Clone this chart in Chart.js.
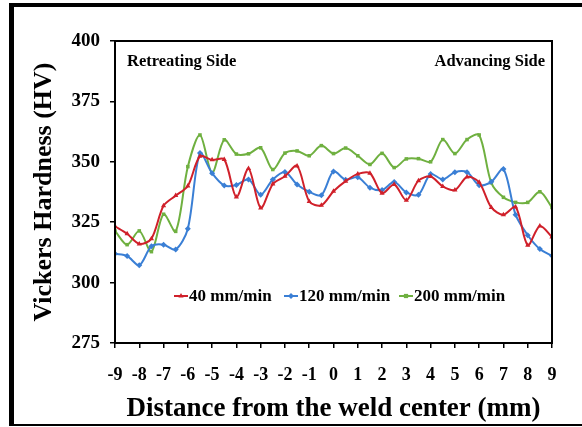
<!DOCTYPE html>
<html>
<head>
<meta charset="utf-8">
<script src="https://cdn.jsdelivr.net/npm/chart.js@4/dist/chart.umd.min.js"></script>
<style>
  html, body { margin: 0; background: #fff; overflow: hidden; }
  #wrap { position: relative; width: 582px; height: 427px; }
  #myChart { display: block; }
  #frame { position: absolute; left: 9px; top: 3px; right: 0; bottom: 1px;
           border-left: 5px solid #000; border-top: 4px solid #000; border-bottom: 2px solid #000; pointer-events: none; }
</style>
</head>
<body>
<div id="wrap">
  <canvas id="myChart" width="582" height="427"></canvas>
  <div id="frame"></div>
</div>
<script>
// distance from weld center (mm)
const distancia = [-9, -8.5, -8, -7.5, -7, -6.5, -6, -5.5, -5, -4.5, -4, -3.5, -3,
  -2.5, -2, -1.5, -1, -0.5, 0, 0.5, 1, 1.5, 2, 2.5, 3,
  3.5, 4, 4.5, 5, 5.5, 6, 6.5, 7, 7.5, 8, 8.5, 9];

// hardness HV for each welding speed
const dureza40 = [323.3, 320.2, 316.0, 318.2, 331.8, 336.0, 340.0, 352.3, 350.8, 351.0, 335.4, 347.2, 330.9,
  340.8, 344.0, 348.3, 333.6, 332.0, 337.8, 342.0, 345.0, 345.3, 337.0, 340.6, 334.1,
  342.2, 343.9, 339.8, 338.3, 343.7, 341.5, 331.1, 328.1, 331.3, 315.5, 323.4, 318.9];
const dureza120 = [311.9, 311.0, 307.2, 315.0, 315.7, 313.7, 322.3, 353.6, 345.3, 340.2, 340.4, 342.7, 336.4,
  342.7, 345.8, 340.6, 337.6, 336.2, 346.0, 342.6, 343.6, 339.3, 338.3, 341.6, 337.3,
  336.4, 344.9, 342.7, 345.7, 345.7, 340.3, 341.7, 347.0, 328.1, 319.6, 313.9, 311.1];
const dureza200 = [321.4, 315.7, 321.4, 312.8, 328.3, 321.2, 348.0, 361.1, 345.5, 359.1, 353.2, 353.3, 355.8,
  346.8, 353.6, 354.5, 352.5, 356.7, 353.4, 355.7, 352.5, 348.9, 353.5, 347.6, 351.2,
  351.3, 350.0, 359.2, 353.4, 359.2, 361.1, 341.3, 335.3, 333.2, 333.2, 337.6, 331.1];

const etiquetas = ['40 mm/min', '120 mm/min', '200 mm/min'];
const colores = ['rgb(208,32,42)', 'rgb(58,127,213)', 'rgb(111,176,64)'];
const marcas = ['triangle', 'rectRot', 'rect'];

const serif = '"Liberation Serif", "Times New Roman", serif';

function puntos(valores) {
  return distancia.map((d, i) => ({ x: d, y: valores[i] }));
}

const series = [dureza40, dureza120, dureza200].map((v, i) => ({
  label: etiquetas[i],
  data: puntos(v),
  borderColor: colores[i],
  backgroundColor: colores[i],
  borderWidth: 2,
  tension: 0.3,
  pointStyle: marcas[i],
  pointRadius: i === 2 ? 2.5 : 3,
  pointBorderWidth: 0
}));

// box around plot, side notes and the inline legend
const extras = {
  id: 'extras',
  afterDraw(chart) {
    const c = chart.ctx;
    const a = chart.chartArea;
    c.save();
    c.strokeStyle = '#000';
    c.lineWidth = 2;
    c.strokeRect(a.left, a.top, a.right - a.left, a.bottom - a.top);

    c.fillStyle = '#000';
    c.font = 'bold 16.5px ' + serif;
    c.textBaseline = 'alphabetic';
    c.textAlign = 'left';
    c.fillText('Retreating Side', 127, 66);
    c.textAlign = 'right';
    c.fillText('Advancing Side', 545, 66);

    // legend
    const xs = [174, 284, 399];
    const y = 296;
    c.font = 'bold 17px ' + serif;
    c.textAlign = 'left';
    c.textBaseline = 'middle';
    chart.data.datasets.forEach((ds, i) => {
      c.strokeStyle = ds.borderColor;
      c.fillStyle = ds.borderColor;
      c.lineWidth = 2;
      c.beginPath();
      c.moveTo(xs[i], y);
      c.lineTo(xs[i] + 14, y);
      c.stroke();
      Chart.helpers.drawPoint(c, { pointStyle: ds.pointStyle, radius: 3, rotation: 0, borderWidth: 0 }, xs[i] + 7, y);
      c.fillStyle = '#000';
      c.fillText(ds.label, xs[i] + 15, y + 1);
    });
    c.restore();
  }
};

const ctx = document.querySelector('#myChart').getContext('2d');
const myChart = new Chart(ctx, {
  type: 'line',
  data: { datasets: series },
  options: {
    responsive: false,
    animation: false,
    layout: { padding: { top: 41, right: 30, left: 0, bottom: 0 } },
    plugins: { legend: { display: false }, tooltip: { enabled: false } },
    scales: {
      x: {
        type: 'linear',
        min: -9, max: 9,
        afterFit: s => { s.height = 84; },
        ticks: { stepSize: 1, color: '#000', font: { family: serif, size: 18, weight: 'bold' }, padding: 17, maxRotation: 0 },
        grid: { drawOnChartArea: false, drawTicks: true, tickLength: 5, color: '#000', lineWidth: 1.5 },
        border: { display: true, color: '#000', width: 2 },
        title: { display: true, text: 'Distance from the weld center (mm)', color: '#000',
                 font: { family: serif, size: 27, weight: 'bold' }, padding: { top: 0, bottom: 2 } }
      },
      y: {
        min: 275, max: 400,
        afterFit: s => { s.width = 115; },
        ticks: { stepSize: 25, color: '#000', font: { family: serif, size: 19, weight: 'bold' }, padding: 10 },
        grid: { drawOnChartArea: false, drawTicks: true, tickLength: 5, color: '#000', lineWidth: 1.5 },
        border: { display: true, color: '#000', width: 2 },
        title: { display: true, text: 'Vickers Hardness (HV)', color: '#000',
                 font: { family: serif, size: 26, weight: 'bold' }, padding: { top: 29, bottom: 0 } }
      }
    }
  },
  plugins: [extras]
});
</script>
</body>
</html>
